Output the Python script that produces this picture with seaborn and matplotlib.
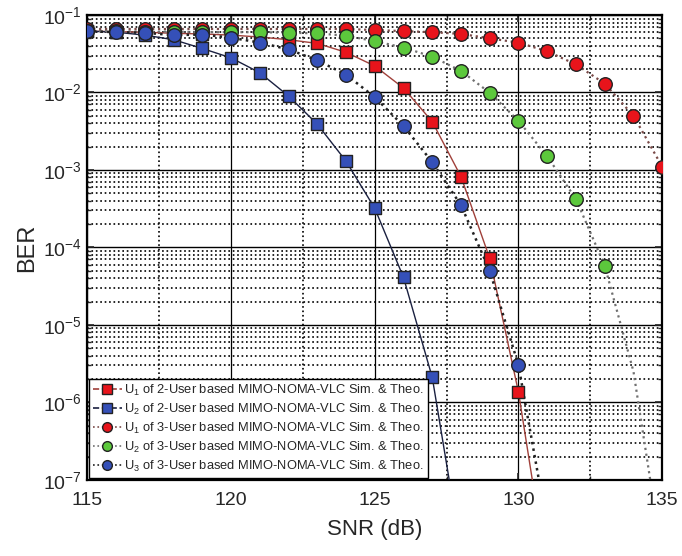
import numpy as np
import pandas as pd
import seaborn as sns
import matplotlib.pyplot as plt
from matplotlib.lines import Line2D
from matplotlib.ticker import LogLocator, MultipleLocator, NullFormatter

# SNR points (dB)
snr = [115, 116, 117, 118, 119, 120, 121, 122, 123, 124, 125, 126, 127, 128, 129, 130,
       131, 132, 133, 134, 135]

# simulated BER (None = not shown)
ber_u1_2u = [0.062, 0.061, 0.060, 0.058, 0.057, 0.055, 0.052, 0.048, 0.043, 0.033, 0.022,
             0.0114, 0.0042, 8.2e-4, 7.2e-5, 1.35e-6, None, None, None, None, None]
ber_u2_2u = [0.062, 0.060, 0.055, 0.048, 0.037, 0.028, 0.018, 0.0090, 0.0039, 1.3e-3, 3.2e-4,
             4.1e-5, 2.1e-6, None, None, None, None, None, None, None, None]
ber_u1_3u = [0.066, 0.066, 0.066, 0.066, 0.066, 0.066, 0.066, 0.066, 0.066, 0.066, 0.064,
             0.062, 0.060, 0.057, 0.050, 0.044, 0.034, 0.023, 0.013, 0.0050, 1.1e-3]
ber_u2_3u = [0.062, 0.062, 0.061, 0.061, 0.060, 0.060, 0.060, 0.059, 0.058, 0.054, 0.046,
             0.038, 0.029, 0.019, 0.0099, 0.0043, 1.5e-3, 4.2e-4, 5.8e-5, None, None]
ber_u3_3u = [0.062, 0.060, 0.059, 0.055, 0.056, 0.051, 0.044, 0.036, 0.026, 0.017, 0.0087,
             0.0037, 1.26e-3, 3.5e-4, 5e-5, 3e-6, None, None, None, None, None]

# theory curve tails below the last marker
tail_u1_2u = ([131], [6e-9])
tail_u2_2u = ([128], [1.2e-8])
tail_u1_3u = ([136], [1e-4])
tail_u2_3u = ([134, 135], [2.5e-6, 1e-8])
tail_u3_3u = ([131], [2.5e-8])

labels = [r"U$_1$ of 2-User based MIMO-NOMA-VLC Sim. & Theo.",
          r"U$_2$ of 2-User based MIMO-NOMA-VLC Sim. & Theo.",
          r"U$_1$ of 3-User based MIMO-NOMA-VLC Sim. & Theo.",
          r"U$_2$ of 3-User based MIMO-NOMA-VLC Sim. & Theo.",
          r"U$_3$ of 3-User based MIMO-NOMA-VLC Sim. & Theo."]

sns.set_theme(style="ticks")
plt.rcParams['font.family'] = ['Liberation Sans', 'DejaVu Sans']
plt.rcParams['mathtext.fontset'] = 'custom'
plt.rcParams['mathtext.rm'] = 'Liberation Sans'
plt.rcParams['mathtext.it'] = 'Liberation Sans'

fig = plt.figure(figsize=(6.82, 5.56), dpi=100)
ax = fig.add_axes([0.128, 0.137, 0.843, 0.836])

series = [
    (ber_u1_2u, tail_u1_2u, 's', '#e8141b', '#a0403a', '-', 1.0),
    (ber_u2_2u, tail_u2_2u, 's', '#3550b8', '#1a2040', '-', 1.0),
    (ber_u1_3u, tail_u1_3u, 'o', '#e8141b', '#7a4a48', ':', 1.6),
    (ber_u2_3u, tail_u2_3u, 'o', '#5cc83c', '#707070', ':', 1.6),
    (ber_u3_3u, tail_u3_3u, 'o', '#3550b8', '#202020', ':', 1.8),
]

handles = []
for (ber, tail, mk, fc, lc, ls, lw), lab in zip(series, labels):
    df = pd.DataFrame({'snr': snr, 'ber': ber}).dropna()
    theo = pd.DataFrame({'snr': list(df['snr']) + tail[0], 'ber': list(df['ber']) + tail[1]})
    sns.lineplot(data=theo, x='snr', y='ber', ax=ax, color=lc, linestyle=ls, lw=lw,
                 zorder=3)
    sns.scatterplot(data=df, x='snr', y='ber', ax=ax, marker=mk, color=fc,
                    s=70 if mk == 's' else 95, edgecolor='#222222', linewidth=1.0,
                    zorder=4)
    handles.append(Line2D([], [], color=lc, linestyle='--' if ls == '-' else ':', lw=1.2,
                          marker=mk, markerfacecolor=fc, markeredgecolor='#222222',
                          markersize=7))

ax.set_yscale('log')
ax.set_xlim(115, 135)
ax.set_ylim(1e-7, 1e-1)
ax.xaxis.set_major_locator(MultipleLocator(5))
ax.xaxis.set_minor_locator(MultipleLocator(2.5))
ax.yaxis.set_major_locator(LogLocator(base=10, numticks=10))
ax.yaxis.set_minor_locator(LogLocator(base=10, subs=np.arange(2, 10), numticks=20))
ax.yaxis.set_minor_formatter(NullFormatter())

ax.grid(which='major', color='black', linestyle='-', linewidth=1.0)
ax.grid(which='minor', color='black', linestyle=':', linewidth=1.2)
ax.xaxis.grid(which='major', linewidth=0.9)

ax.tick_params(which='both', direction='in', top=True, right=True)
ax.tick_params(which='major', length=5, width=1.2, labelsize=14)
ax.tick_params(which='minor', length=3, width=1.0)
ax.tick_params(axis='x', which='major', pad=9)
ax.tick_params(axis='y', which='major', pad=4)
for sp in ax.spines.values():
    sp.set_linewidth(1.6)
    sp.set_color('black')

ax.set_xlabel('SNR (dB)', fontsize=16, labelpad=7)
ax.set_ylabel('BER', fontsize=17, labelpad=3)

leg = ax.legend(handles, labels, loc='lower left', fontsize=9.3, frameon=True,
                fancybox=False, edgecolor='black', framealpha=1, handlelength=2.2,
                handletextpad=0.2, labelspacing=0.3, borderpad=0.3, borderaxespad=0.15)
leg.get_frame().set_linewidth(1.0)

fig.savefig('out.png', dpi=100)
